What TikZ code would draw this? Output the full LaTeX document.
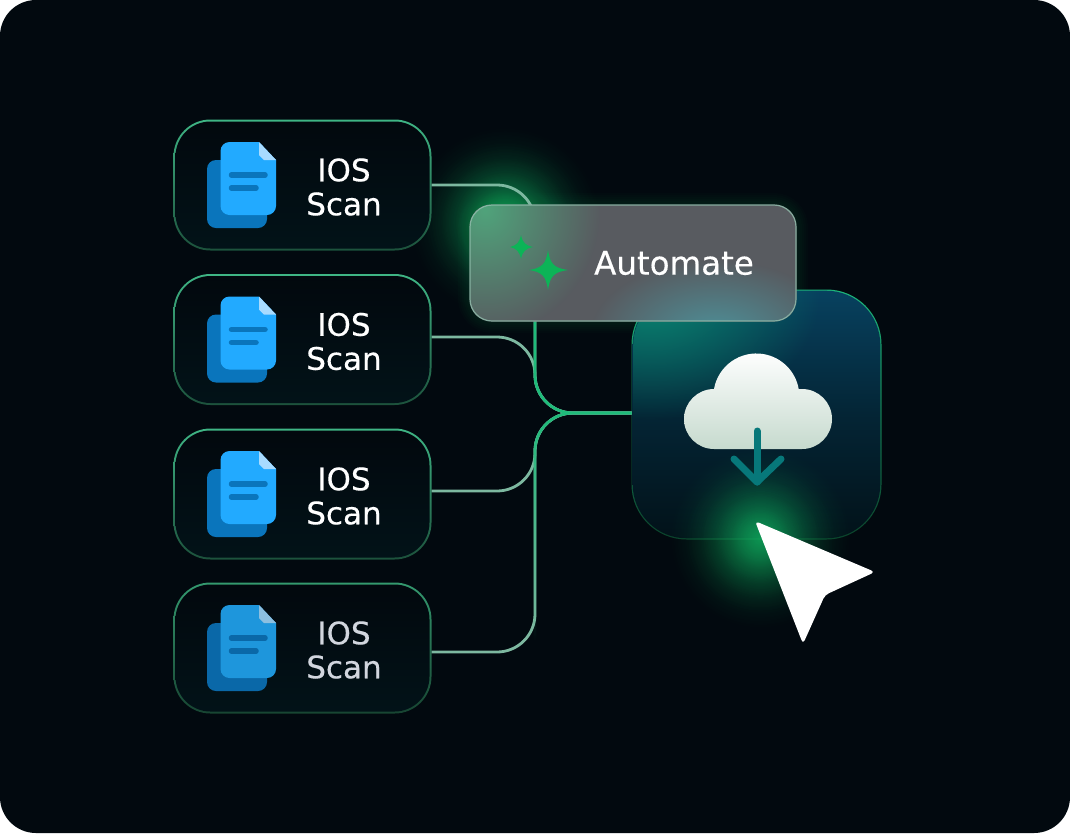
\documentclass[tikz,border=0pt]{standalone}
\usepackage{fontspec}
\setmainfont{DejaVu Sans}
\newfontfamily\labelfont[FakeBold=0.35]{DejaVu Sans}
\usetikzlibrary{fadings,positioning}
\definecolor{cardbg}{HTML}{02090F}
\definecolor{linkpale}{HTML}{7DB8A0}
\definecolor{linkgreen}{HTML}{1FBB7A}
\definecolor{glowgreen}{HTML}{10B060}
\definecolor{starcol}{HTML}{0CB457}
\definecolor{cloudtop}{HTML}{07415F}
\definecolor{cloudbot}{HTML}{021219}
\definecolor{cloudteal}{HTML}{0A8F72}
\definecolor{cloudlow}{HTML}{C6DACE}
\definecolor{boxgrey}{HTML}{585B60}
\definecolor{boxgreen}{HTML}{4FAB7E}
\definecolor{boxteal}{HTML}{4C97A0}
\definecolor{arrowteal}{HTML}{07787A}
\tikzfading[name=glow, inner color=transparent!10, outer color=transparent!100]
\tikzfading[name=softglow, inner color=transparent!70, outer color=transparent!100]
\tikzstyle{scanedge} = [rectangle, rounded corners=37pt, minimum width=258pt, minimum height=131pt, inner sep=0pt, outer sep=0pt, top color=#1, bottom color=#1!45!black]
\tikzstyle{scanfill} = [rectangle, rounded corners=35pt, minimum width=254pt, minimum height=127pt, inner sep=0pt, top color=cardbg!90!black, bottom color=cardbg!92!teal]
\tikzstyle{scantext} = [align=center, font=\labelfont\fontsize{31}{34}\selectfont]
\tikzstyle{link} = [line width=2.8pt, linkpale, rounded corners=38pt]
\tikzstyle{trunk} = [line width=2.8pt, linkgreen, rounded corners=38pt]
\tikzstyle{sparkle} = [fill=starcol, draw=none]
\tikzfading[name=fadeup, bottom color=transparent!100, top color=transparent!0]
\begin{document}
\begin{tikzpicture}[x=1pt, y=-1pt]
  \useasboundingbox (0,0) rectangle (1070,833);
  \fill[white] (0,0) rectangle (1070,833);
  \fill[cardbg, rounded corners=36pt] (0,0) rectangle (1070,833);

  % glow behind the automate box
  \foreach \r in {35,50,65,80,95}{
    \fill[glowgreen, path fading=softglow] (505,222) circle (\r);
  }
  \foreach \w in {4,8,...,24}{
    \draw[glowgreen, opacity=0.02, line width=\w pt, rounded corners=22pt] (470,205) rectangle (796,321);
  }

  % scan boxes
  \foreach \i/\y/\edge/\front/\back/\fold/\txt in {
    1/185/3FB585/22AAFF/0A75BC/A8DBFF/FFFFFF,
    2/339.5/3FB585/22AAFF/0A75BC/A8DBFF/FFFFFF,
    3/494/3FB585/22AAFF/0A75BC/A8DBFF/FFFFFF,
    4/648/34996F/1E96DC/0A68A8/8CBFE0/D2D6DE}{
    \definecolor{edgecol}{HTML}{\edge}
    \definecolor{frontcol}{HTML}{\front}
    \definecolor{backcol}{HTML}{\back}
    \definecolor{foldcol}{HTML}{\fold}
    \definecolor{txtcol}{HTML}{\txt}
    \node[scanedge=edgecol] (scan\i) at (302.5,\y) {};
    \node[scanfill] (scanin\i) at (scan\i) {};
    \node[scantext, text=txtcol] (txt\i) at (344,\y+2) {IOS\\Scan};
    \begin{scope}[shift={(0,\y-185)}]
      \fill[backcol, rounded corners=9pt] (207,160) rectangle (267,228);
      \fill[frontcol] (276,160) [rounded corners=9pt] -- (276,215) -- (220.5,215) -- (220.5,142) [sharp corners] -- (259,142) -- cycle;
      \fill[foldcol] (259,142) -- (276,160) -- (264,160) -- (259,155) -- cycle;
      \draw[backcol, line width=5.5pt, line cap=round] (231.5,175) -- (265,175);
      \draw[backcol, line width=5.5pt, line cap=round] (231.5,188) -- (256,188);
    \end{scope}
  }

  % target box
  \node[rectangle, rounded corners=55pt, minimum width=250pt, minimum height=250pt, inner sep=0pt, outer sep=0pt, top color=linkgreen!90!teal, bottom color=linkgreen!35!black] (cloud) at (756.5,414.5) {};
  \coordinate (hub) at (535,413);

  % connectors
  \draw[link] (scan1.east) -| (hub) -- (hub -| cloud.west);
  \draw[link] ([yshift=2.5pt]scan2.east) -| (hub) -- (hub -| cloud.west);
  \draw[link] ([yshift=3pt]scan3.east) -| (hub) -- (hub -| cloud.west);
  \draw[link] ([yshift=-4pt]scan4.east) -| (hub) -- (hub -| cloud.west);
  \draw[trunk] (535,321) -- (hub) -- (hub -| cloud.west);
  \draw[trunk, path fading=fadeup] (535,640) -- (hub) -- (hub -| cloud.west);

  \node[rectangle, rounded corners=54pt, minimum width=247.6pt, minimum height=247.6pt, inner sep=0pt, top color=cloudtop, bottom color=cloudbot, middle color=cloudtop!40!cloudbot] (cloudin) at (cloud) {};
  \begin{scope}
    \clip[rounded corners=54pt] (633.2,291.2) rectangle (879.8,537.8);
    \fill[cloudteal, path fading=glow] (650,295) ellipse [x radius=170, y radius=125];
  \end{scope}
  % glow around the cursor tip
  \foreach \r in {30,45,60,75,90}{
    \fill[glowgreen, path fading=softglow] (760,538) circle (\r);
  }

  % cloud with arrow
  \shade[top color=white, bottom color=cloudlow, rounded corners=0pt] (714,449) arc[start angle=270, end angle=90, radius=30pt] arc[start angle=170, end angle=10, radius=43pt] -- (802,389) arc[start angle=90, end angle=-90, radius=30pt] -- cycle;
  \draw[arrowteal, line width=7pt, line cap=round] (757,431) -- (757,482);
  \draw[arrowteal, line width=7pt, line cap=round, line join=round] (734,459) -- (757,482) -- (781,459);

  % automate box
  \node[rectangle, rounded corners=22pt, minimum width=327pt, minimum height=117pt, inner sep=0pt, outer sep=0pt, fill=boxgrey] (automate) at (633,263) {};
  \begin{scope}
    \clip[rounded corners=22pt] (470,205) rectangle (796,321);
    \fill[boxgreen, path fading=glow] (485,210) ellipse [x radius=115, y radius=125];
    \fill[boxteal, path fading=glow] (715,335) ellipse [x radius=125, y radius=75];
  \end{scope}
  \draw[linkpale!80!white, opacity=0.75, line width=1.2pt, rounded corners=22pt] (470,205) rectangle (796,321);
  \node[font=\labelfont\fontsize{32.5}{34}\selectfont, text=white] (autotxt) at (674,263) {Automate};

  % sparkles
  \fill[sparkle] (548,250) .. controls (550,264) and (554,268) .. (568,270) .. controls (554,272) and (550,276) .. (548,290) .. controls (546,276) and (542,272) .. (529,270) .. controls (542,268) and (546,264) .. (548,250) -- cycle;
  \fill[sparkle] (521,235) .. controls (522.5,242.5) and (525.5,245.5) .. (533,247) .. controls (525.5,248.5) and (522.5,251.5) .. (521,259) .. controls (519.5,251.5) and (516.5,248.5) .. (510,247) .. controls (516.5,245.5) and (519.5,242.5) .. (521,235) -- cycle;

  % cursor
  \fill[white, rounded corners=4pt] (755,521) -- (875,572) -- (825,595) -- (803,644) -- cycle;
\end{tikzpicture}
\end{document}
